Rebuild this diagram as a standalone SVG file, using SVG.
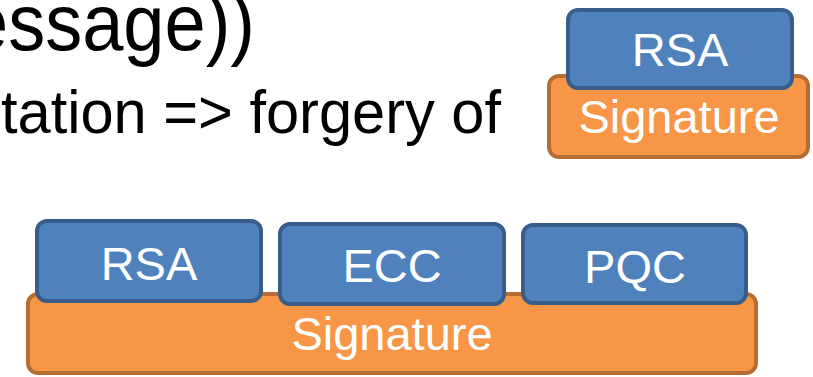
<svg xmlns="http://www.w3.org/2000/svg" width="813" height="377" viewBox="0 0 813 377">
<style>
.bg{fill:#FFFFFF}
.sig{fill:#F79646;stroke:#B66D31;stroke-width:4}
.alg{fill:#4F81BD;stroke:#385D8A;stroke-width:4}
.lbl{font-family:"Liberation Sans",Arial,sans-serif;fill:#FFFFFF;text-anchor:middle;font-size:47px}
.body{font-family:"Liberation Sans",Arial,sans-serif;fill:#000000}
</style>
<rect class="bg" x="0" y="0" width="813" height="377"/>
<g id="text">
<text class="body" x="-33" y="50" font-size="80" textLength="288" lengthAdjust="spacingAndGlyphs">essage))</text>
<text class="body" x="1" y="133" font-size="62" textLength="500" lengthAdjust="spacingAndGlyphs">tation =&gt; forgery of</text>
</g>
<g id="sig-small">
<rect class="sig" x="549" y="76" width="259" height="81" rx="10"/>
<text class="lbl" x="679" y="133">Signature</text>
</g>
<g id="rsa-small">
<rect class="alg" x="568" y="10" width="224" height="78" rx="10"/>
<text class="lbl" x="680" y="66">RSA</text>
</g>
<g id="sig-big">
<rect class="sig" x="28" y="294" width="728" height="79" rx="10"/>
<text class="lbl" x="392" y="350">Signature</text>
</g>
<g id="rsa">
<rect class="alg" x="37" y="221" width="224" height="80" rx="10"/>
<text class="lbl" x="149" y="280">RSA</text>
</g>
<g id="ecc">
<rect class="alg" x="280" y="224" width="224" height="80" rx="10"/>
<text class="lbl" x="392" y="282">ECC</text>
</g>
<g id="pqc">
<rect class="alg" x="523" y="225" width="223" height="78" rx="10"/>
<text class="lbl" x="635" y="283">PQC</text>
</g>
<g id="connectors"/>
</svg>
